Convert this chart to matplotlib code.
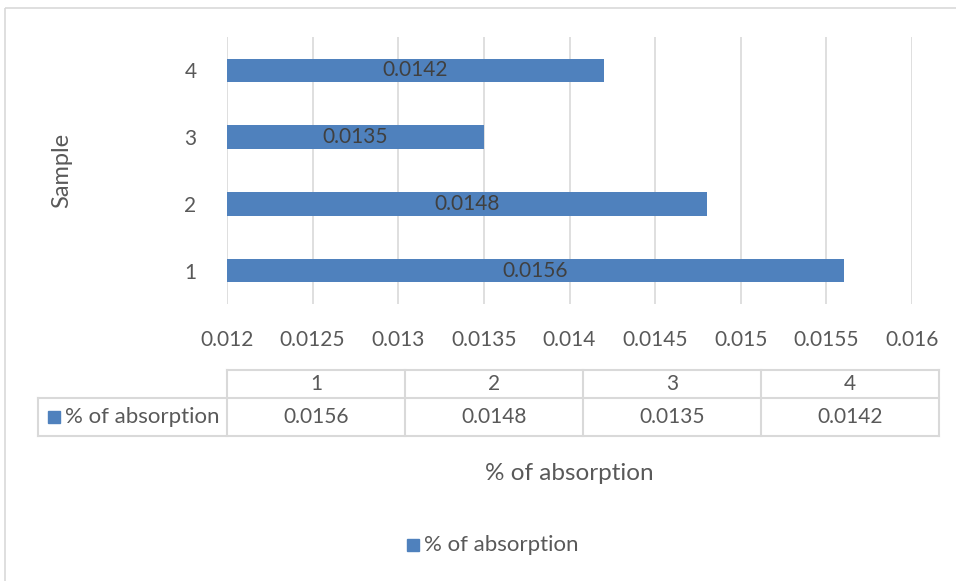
import matplotlib.pyplot as plt
from matplotlib.patches import Rectangle

# sample absorption values
samples = ['1', '2', '3', '4']
absorption = [0.0156, 0.0148, 0.0135, 0.0142]
series_name = '% of absorption'
x_ticks = [0.012, 0.0125, 0.013, 0.0135, 0.014, 0.0145, 0.015, 0.0155, 0.016]

bar_color = '#4F81BD'
text_color = '#595959'
grid_color = '#D9D9D9'

plt.rcParams['font.family'] = ['Lato', 'DejaVu Sans']

W, H = 956, 581
fig = plt.figure(figsize=(W / 100, H / 100), dpi=100)

# overlay in pixel coords for the frame and data table
ov = fig.add_axes([0, 0, 1, 1])
ov.set_xlim(0, W)
ov.set_ylim(H, 0)
ov.axis('off')
ov.add_patch(Rectangle((5, 8), 1000, 1000, fill=False, edgecolor=grid_color, lw=1.2))

# main plot area
left, right, top, bottom = 227, 912, 37, 304
ax = fig.add_axes([left / W, 1 - bottom / H, (right - left) / W, (bottom - top) / H])
pos = list(range(1, len(samples) + 1))
bars = ax.barh(pos, absorption, height=0.35, color=bar_color, zorder=3, left=0)
ax.set_xlim(x_ticks[0], x_ticks[-1])
ax.set_ylim(0.5, len(samples) + 0.5)
ax.set_xticks(x_ticks)
ax.set_xticklabels([f'{t:g}' for t in x_ticks])
ax.set_yticks(pos)
ax.set_yticklabels(samples)
ax.grid(axis='x', color=grid_color, lw=1.2, zorder=0)
for s in ax.spines.values():
    s.set_visible(False)
ax.tick_params(length=0, colors=text_color, labelsize=15)
ax.tick_params(axis='x', pad=19)
ax.tick_params(axis='y', pad=22)
ax.bar_label(bars, labels=[f'{v:g}' for v in absorption], label_type='center',
             color='#404040', fontsize=15)
ax.patch.set_alpha(0)
ov.text(62, 170, 'Sample', rotation=90, ha='center', va='center', color=text_color, fontsize=17)

# data table below the axis
col_l = 227
col_w = 178
lab_l = 38
r0, r1, r2 = 370, 398, 436
ncol = len(samples)
tab_r = col_l + col_w * ncol
lc = dict(color=grid_color, lw=1.5)
ov.plot([col_l, tab_r], [r0, r0], **lc)
ov.plot([lab_l, tab_r], [r1, r1], **lc)
ov.plot([lab_l, tab_r], [r2, r2], **lc)
ov.plot([lab_l, lab_l], [r1, r2], **lc)
for i in range(ncol + 1):
    x = col_l + col_w * i
    ov.plot([x, x], [r0, r2], **lc)
for i, (s, v) in enumerate(zip(samples, absorption)):
    cx = col_l + col_w * (i + 0.5)
    ov.text(cx, (r0 + r1) / 2, s, ha='center', va='center', color=text_color, fontsize=15)
    ov.text(cx, (r1 + r2) / 2, f'{v:g}', ha='center', va='center', color=text_color, fontsize=15)
ov.add_patch(Rectangle((48, 411), 12, 12, color=bar_color))
ov.text(65, (r1 + r2) / 2, series_name, ha='left', va='center', color=text_color, fontsize=16)

# axis title and legend
ov.text(569, 474, series_name, ha='center', va='center', color=text_color, fontsize=17.5)
ov.add_patch(Rectangle((407, 539), 12, 12, color=bar_color))
ov.text(424, 545, series_name, ha='left', va='center', color=text_color, fontsize=16)

fig.savefig('out.png', dpi=100)
